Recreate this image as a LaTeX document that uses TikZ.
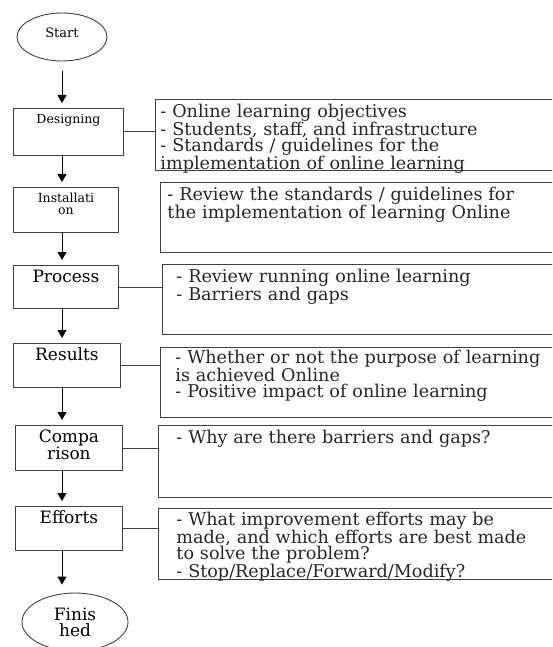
\documentclass[tikz,border=0pt]{standalone}
\usepackage{fontspec}
\setmainfont{DejaVu Serif}
\usetikzlibrary{shapes.geometric, arrows.meta, positioning}
\setlength{\lineskiplimit}{-20pt}
\tikzstyle{arrow} = [line width=1pt, -{Triangle[length=8pt,width=9pt]}, shorten >=5pt]
\tikzstyle{link} = [line width=0.9pt, draw=black!75]
\tikzstyle{terminal} = [ellipse, draw=black!75, line width=0.9pt, inner sep=0pt, align=center]
\tikzstyle{stage} = [rectangle, draw=black!75, line width=0.9pt, anchor=north west, inner xsep=3pt, inner ysep=4pt, text height=13pt, align=center, font=\fontsize{17}{15}\selectfont]
\tikzstyle{detail} = [rectangle, draw=black!75, line width=0.9pt, anchor=north west, inner xsep=6pt, inner ysep=4pt, text width=430pt, text height=14pt, text depth=48pt, align=left, text=black!85, font=\fontsize{17.6}{15.8}\selectfont]
\tikzset{
	smalltext/.style = {font=\fontsize{12.5}{12}\selectfont, text height=11pt}
}

\begin{document}
\begin{tikzpicture}[x=1pt,y=-1pt]
\clip (0,0) rectangle (552,647);
%----------------------------------------------------------------------------
% Placement of flowchart nodes
\node (start) [terminal, minimum width=90pt, minimum height=48pt, text depth=8pt, font=\fontsize{13}{13}\selectfont] at (62,37) {Start};

\node (design) [stage, smalltext, text width=104pt, text depth=28pt] at (13,108) {Designing};
\node (install) [stage, smalltext, text width=99pt, text depth=26pt] at (13,187) {Installati\\on};
\node (process) [stage, text width=99pt, text depth=22pt] at (13,265) {Process};
\node (results) [stage, text width=101pt, text depth=23pt] at (13,343) {Results};
\node (compare) [stage, text width=101pt, text depth=24pt] at (15,425) {Compa\\rison};
\node (efforts) [stage, text width=101pt, text depth=23pt] at (15,506) {Efforts};

\node (finish) [terminal, minimum width=106pt, minimum height=58pt, font=\fontsize{17}{16}\selectfont] at (75,622) {Finis\\hed};

% details on the right
\node (designDetail) [detail, inner xsep=5pt, text depth=49pt] at (155,99) {- Online learning objectives\\- Students, staff, and infrastructure\\- Standards / guidelines for the\\implementation of online learning};
\node (installDetail) [detail, inner xsep=7pt] at (160,182) {- Review the standards / guidelines for\\the implementation of learning Online};
\node (processDetail) [detail, inner xsep=14pt] at (162,264) {- Review running online learning\\- Barriers and gaps};
\node (resultsDetail) [detail, inner xsep=15pt, text height=12pt, text depth=50pt] at (160,347) {- Whether or not the purpose of learning\\is achieved Online\\- Positive impact of online learning};
\node (compareDetail) [detail, inner xsep=18pt, text depth=50pt] at (158,425) {- Why are there barriers and gaps?};
\node (effortsDetail) [detail, inner xsep=18pt, text height=13pt, text depth=50pt] at (158,508) {- What improvement efforts may be\\made, and which efforts are best made\\to solve the problem?\\- Stop/Replace/Forward/Modify?};

%----------------------------------------------------------------------------
% Draw arrows
\draw [arrow, shorten <=10pt] (start) -- (start |- design.north);
\draw [arrow] (design.south -| start) -- (install.north -| start);
\draw [arrow] (install.south -| start) -- (process.north -| start);
\draw [arrow] (process.south -| start) -- (results.north -| start);
\draw [arrow] (results.south -| start) -- (compare.north -| start);
\draw [arrow] (compare.south -| start) -- (efforts.north -| start);
\draw [arrow, shorten >=8pt] (efforts.south -| start) -- (finish.north -| start);

%----------------------------------------------------------------------------
% Draw links to details
\draw [link] (design.east) -- (design.east -| designDetail.west);
\draw [link] (process.east) -- (process.east -| processDetail.west);
\draw [link] (results.east) -- (results.east -| resultsDetail.west);
\draw [link] (compare.east) -- (compare.east -| compareDetail.west);
\draw [link] (efforts.east) -- (efforts.east -| effortsDetail.west);

\end{tikzpicture}
\end{document}
